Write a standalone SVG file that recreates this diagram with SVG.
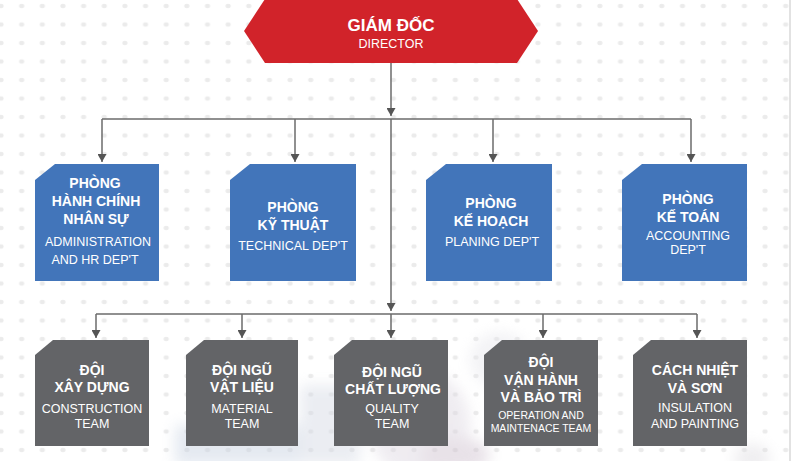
<svg xmlns="http://www.w3.org/2000/svg" width="791" height="461" viewBox="0 0 791 461">
<defs>
<pattern id="dots" x="1" y="6" width="20.65" height="18.5" patternUnits="userSpaceOnUse">
<ellipse cx="0" cy="0" rx="2.6" ry="2.2" fill="#ebebeb"/>
<ellipse cx="20.65" cy="0" rx="2.6" ry="2.2" fill="#ebebeb"/>
<ellipse cx="0" cy="18.5" rx="2.6" ry="2.2" fill="#ebebeb"/>
<ellipse cx="20.65" cy="18.5" rx="2.6" ry="2.2" fill="#ebebeb"/>
</pattern>
<marker id="arr" viewBox="0 0 8 9" refX="8" refY="4.5" markerWidth="8" markerHeight="9" markerUnits="userSpaceOnUse" orient="auto">
<path d="M0,0 L8,4.5 L0,9 z" fill="#555"/>
</marker>
<filter id="blur" x="-20%" y="-20%" width="140%" height="140%"><feGaussianBlur stdDeviation="7"/></filter>
</defs>
<style>
.dept{fill:#4275BA}
.team{fill:#636467}
.b{font-family:"Liberation Sans",Arial,sans-serif;font-weight:bold;font-size:14px;fill:#fff;text-anchor:middle}
.r{font-family:"Liberation Sans",Arial,sans-serif;font-size:12.5px;fill:#fff;text-anchor:middle}
.s{font-family:"Liberation Sans",Arial,sans-serif;font-size:10.5px;fill:#fff;text-anchor:middle}
.ln{fill:none;stroke:#6b6b6b;stroke-width:1.5}
</style>
<rect width="791" height="461" fill="#ffffff"/>
<rect width="791" height="461" fill="url(#dots)"/>
<rect x="789" y="0" width="2" height="461" fill="#e2e2e2"/>
<g id="backdrop" filter="url(#blur)" opacity="0.45">
<rect x="175" y="425" width="165" height="40" fill="#c6d0e0"/>
<rect x="300" y="385" width="60" height="80" fill="#d3d8e3"/>
<ellipse cx="420" cy="425" rx="50" ry="55" fill="#dcd6e0"/>
<ellipse cx="500" cy="360" rx="30" ry="28" fill="#e4e4ea"/>
<ellipse cx="455" cy="455" rx="35" ry="18" fill="#cdbfcd"/>
<ellipse cx="752" cy="458" rx="18" ry="14" fill="#dcdadf"/>
</g>
<g id="connectors">
<path class="ln" d="M391 63 V116" marker-end="url(#arr)"/>
<path class="ln" d="M102 119 H691"/>
<path class="ln" d="M102 119 V162" marker-end="url(#arr)"/>
<path class="ln" d="M295 119 V162" marker-end="url(#arr)"/>
<path class="ln" d="M493 119 V162" marker-end="url(#arr)"/>
<path class="ln" d="M691 119 V162" marker-end="url(#arr)"/>
<path class="ln" d="M391 119 V311" marker-end="url(#arr)"/>
<path class="ln" d="M96 314 H697"/>
<path class="ln" d="M96 314 V338" marker-end="url(#arr)"/>
<path class="ln" d="M242 314 V338" marker-end="url(#arr)"/>
<path class="ln" d="M391 314 V338" marker-end="url(#arr)"/>
<path class="ln" d="M543 314 V338" marker-end="url(#arr)"/>
<path class="ln" d="M697 314 V338" marker-end="url(#arr)"/>
</g>
<g id="director">
<polygon points="265,-1 517,-1 538,31 517,63 265,63 244,31" fill="#D1232A"/>
<text class="b" x="391" y="31" style="font-size:17px">GIÁM ĐỐC</text>
<text class="r" x="391" y="48">DIRECTOR</text>
</g>
<g id="dept-hr">
<polygon class="dept" points="35,180 55,164 159,164 159,281 35,281"/>
<text class="b" x="95" y="188">PHÒNG</text>
<text class="b" x="96" y="206">HÀNH CHÍNH</text>
<text class="b" x="96" y="224">NHÂN SỰ</text>
<text class="r" x="98" y="246">ADMINISTRATION</text>
<text class="r" x="95" y="264">AND HR DEP'T</text>
</g>
<g id="dept-tech">
<polygon class="dept" points="230,180 250,164 356,164 356,281 230,281"/>
<text class="b" x="293" y="212">PHÒNG</text>
<text class="b" x="293" y="230">KỸ THUẬT</text>
<text class="r" x="293" y="250">TECHNICAL DEP'T</text>
</g>
<g id="dept-plan">
<polygon class="dept" points="426,180 446,164 552,164 552,281 426,281"/>
<text class="b" x="491" y="208">PHÒNG</text>
<text class="b" x="491" y="226">KẾ HOẠCH</text>
<text class="r" x="492" y="246">PLANING DEP'T</text>
</g>
<g id="dept-acc">
<polygon class="dept" points="622,180 642,164 747,164 747,281 622,281"/>
<text class="b" x="688" y="204">PHÒNG</text>
<text class="b" x="688" y="222">KẾ TOÁN</text>
<text class="r" x="688" y="240">ACCOUNTING</text>
<text class="r" x="688" y="254">DEP'T</text>
</g>
<g id="team-construction">
<polygon class="team" points="35,355 53,340 149,340 149,446 35,446"/>
<text class="b" x="92" y="375">ĐỘI</text>
<text class="b" x="92" y="392">XÂY DỰNG</text>
<text class="r" x="92" y="413">CONSTRUCTION</text>
<text class="r" x="92" y="428">TEAM</text>
</g>
<g id="team-material">
<polygon class="team" points="186,355 204,340 298,340 298,446 186,446"/>
<text class="b" x="242" y="375">ĐỘI NGŨ</text>
<text class="b" x="242" y="392">VẬT LIỆU</text>
<text class="r" x="242" y="413">MATERIAL</text>
<text class="r" x="242" y="428">TEAM</text>
</g>
<g id="team-quality">
<polygon class="team" points="334,355 352,340 448,340 448,446 334,446"/>
<text class="b" x="392" y="377">ĐỘI NGŨ</text>
<text class="b" x="393" y="394">CHẤT LƯỢNG</text>
<text class="r" x="392" y="413">QUALITY</text>
<text class="r" x="392" y="428">TEAM</text>
</g>
<g id="team-operation">
<polygon class="team" points="484,355 502,340 598,340 598,446 484,446"/>
<text class="b" x="541" y="367">ĐỘI</text>
<text class="b" x="541" y="385">VẬN HÀNH</text>
<text class="b" x="541" y="402">VÀ BẢO TRÌ</text>
<text class="s" x="541" y="419">OPERATION AND</text>
<text class="s" x="541" y="432">MAINTENACE TEAM</text>
</g>
<g id="team-insulation">
<polygon class="team" points="633,355 651,340 747,340 747,446 633,446"/>
<text class="b" x="695" y="375">CÁCH NHIỆT</text>
<text class="b" x="695" y="393">VÀ SƠN</text>
<text class="r" x="695" y="412">INSULATION</text>
<text class="r" x="695" y="428">AND PAINTING</text>
</g>
</svg>
